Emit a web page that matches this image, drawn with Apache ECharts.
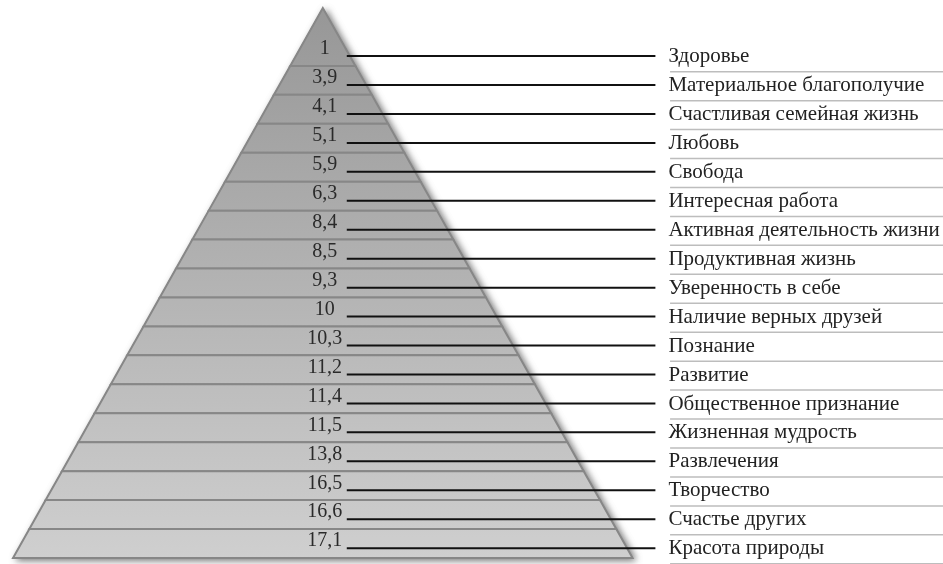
<!DOCTYPE html>
<html>
<head>
<meta charset="utf-8">
<script src="https://cdn.jsdelivr.net/npm/echarts@6/dist/echarts.min.js"></script>
<style>
  html, body { margin: 0; padding: 0; background: #fff; }
  #pyramid { width: 943px; height: 564px; }
</style>
</head>
<body>
<div id="pyramid"></div>
<script>
// ranks, top of the pyramid first
var rankList = ['1', '3,9', '4,1', '5,1', '5,9', '6,3', '8,4', '8,5', '9,3', '10',
  '10,3', '11,2', '11,4', '11,5', '13,8', '16,5', '16,6', '17,1']
var valueNameList = ['Здоровье', 'Материальное благополучие', 'Счастливая семейная жизнь',
  'Любовь', 'Свобода', 'Интересная работа', 'Активная деятельность жизни',
  'Продуктивная жизнь', 'Уверенность в себе', 'Наличие верных друзей', 'Познание',
  'Развитие', 'Общественное признание', 'Жизненная мудрость', 'Развлечения',
  'Творчество', 'Счастье других', 'Красота природы']

var depth = rankList.length + 1 // top layer is two rows tall
var font = '"Liberation Serif", "DejaVu Serif", serif'

var chart = echarts.init(document.getElementById('pyramid'))
var layerData = rankList.map(function(r, i) {
  return [i]
})

function fillGradient(api) {
  var p0 = api.coord([0, 0])
  var p1 = api.coord([0, depth])
  return {
    type: 'linear', global: true, x: 0, y: p0[1], x2: 0, y2: p1[1],
    colorStops: [
      { offset: 0, color: '#979797' },
      { offset: 1, color: '#cfcfcf' }
    ]
  }
}

chart.setOption({
  backgroundColor: '#fff',
  animation: false,
  grid: { left: 0, right: 0, top: 8, bottom: 6 },
  xAxis: { type: 'value', min: -19.8, max: 38.04, show: false },
  yAxis: { type: 'value', min: 0, max: depth, inverse: true, show: false },
  series: [{
    // outline of the whole pyramid, carries the shadow
    type: 'custom',
    z: 1,
    data: [[depth]],
    renderItem: function(params, api) {
      var d = api.value(0)
      return {
        type: 'polygon',
        shape: { points: [api.coord([0, 0]), api.coord([d, d]), api.coord([-d, d])] },
        style: {
          fill: fillGradient(api),
          stroke: '#7a7a7a',
          lineWidth: 1,
          shadowBlur: 7,
          shadowOffsetX: 3,
          shadowOffsetY: 2,
          shadowColor: 'rgba(0,0,0,0.55)'
        }
      }
    }
  }, {
    type: 'custom',
    z: 2,
    data: layerData,
    renderItem: function(params, api) {
      var i = api.value(0)
      var top = i === 0 ? 0 : i + 1
      var bot = i + 2
      var leadY = api.coord([0, bot - 0.34])[1]
      var textY = api.coord([0, bot - 0.32])[1]
      var lineY = api.coord([0, bot + 0.2])[1]
      var x0 = api.coord([1.47, 0])[0]
      var x1 = api.coord([20.4, 0])[0]
      var xt = api.coord([21.2, 0])[0]
      var xu0 = api.coord([21.3, 0])[0]
      var xu1 = api.coord([38.04, 0])[0]
      return {
        type: 'group',
        children: [{
          type: 'polygon',
          shape: {
            points: [api.coord([-top, top]), api.coord([top, top]),
              api.coord([bot, bot]), api.coord([-bot, bot])]
          },
          style: { fill: fillGradient(api), stroke: '#878787', lineWidth: 2 }
        }, {
          type: 'line',
          shape: { x1: xu0, y1: lineY, x2: xu1, y2: lineY },
          style: { stroke: '#bdbdbd', lineWidth: 1.5 }
        }, {
          type: 'line',
          shape: { x1: x0, y1: leadY, x2: x1, y2: leadY },
          style: { stroke: '#111', lineWidth: 2 }
        }, {
          type: 'text',
          style: {
            text: rankList[i],
            x: api.coord([0.12, 0])[0],
            y: leadY - 7,
            align: 'center',
            verticalAlign: 'middle',
            fill: '#2a2a2a',
            fontSize: 20,
            fontFamily: font
          }
        }, {
          type: 'text',
          style: {
            text: valueNameList[i],
            x: xt,
            y: textY,
            align: 'left',
            verticalAlign: 'middle',
            fill: '#222',
            fontSize: 21,
            fontFamily: font
          }
        }]
      }
    }
  }]
})
</script>
</body>
</html>
